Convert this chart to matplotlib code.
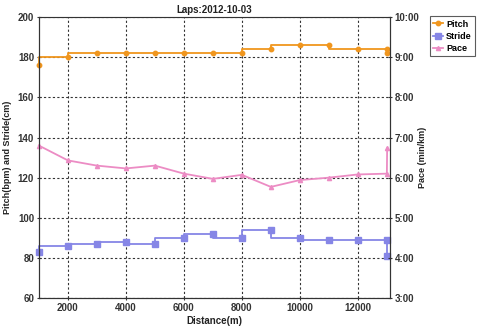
import matplotlib
matplotlib.use('Agg')
import matplotlib.pyplot as plt
from matplotlib.ticker import FuncFormatter

plt.rcParams['font.family'] = ['Liberation Sans', 'DejaVu Sans']

# lap data
distance = [1000, 2000, 3000, 4000, 5000, 6000, 7000, 8000, 9000, 10000, 11000, 12000, 13000, 13010]
pitch = [176, 180, 182, 182, 182, 182, 182, 182, 184, 186, 186, 184, 184, 182]
stride = [83, 86, 87, 88, 87, 90, 92, 90, 94, 90, 89, 89, 89, 81]
pace = [6.80, 6.43, 6.30, 6.23, 6.30, 6.10, 5.97, 6.07, 5.77, 5.94, 6.00, 6.08, 6.10, 6.73]  # min/km

c_pitch = '#F0961E'
c_stride = '#8686E6'
c_pace = '#EC8CC4'

fig = plt.figure(figsize=(4.8, 3.29), dpi=100)
ax1 = fig.add_axes([0.081, 0.094, 0.731, 0.854])
ax2 = ax1.twinx()

l1, = ax1.plot(distance, pitch, drawstyle='steps-pre', color=c_pitch, lw=1.3,
               marker='o', ms=3.2, label='Pitch', clip_on=False)
l2, = ax1.plot(distance, stride, drawstyle='steps-pre', color=c_stride, lw=1.3,
               marker='s', ms=4, label='Stride', clip_on=False)
l3, = ax2.plot(distance, pace, color=c_pace, lw=1.3, marker='^', ms=3, label='Pace', clip_on=False)

ax1.set_xlim(1000, 13100)
ax1.set_ylim(60, 200)
ax2.set_ylim(3, 10)
ax1.set_xticks([2000, 4000, 6000, 8000, 10000, 12000])
ax1.set_yticks(range(60, 201, 20))
ax2.set_yticks(range(3, 11))
ax2.yaxis.set_major_formatter(FuncFormatter(lambda v, p: '%d:00' % v))

ax1.grid(True, color='#333333', linestyle=(0, (2, 2)), lw=0.8)
for ax in (ax1, ax2):
    ax.tick_params(labelsize=7, length=3, direction='inout', colors='#333333', width=0.8, pad=2)
    for lab in ax.get_xticklabels() + ax.get_yticklabels():
        lab.set_fontweight('bold')
    for s in ax.spines.values():
        s.set_color('#333333')
ax1.spines['top'].set_color('#bbbbbb')

ax1.set_title('Laps:2012-10-03', fontsize=7, fontweight='bold', color='#222222', pad=3)
ax1.set_xlabel('Distance(m)', fontsize=7, fontweight='bold', color='#222222', labelpad=2)
ax1.set_ylabel('Pitch(bpm) and Stride(cm)', fontsize=6.5, fontweight='bold', color='#222222')
ax2.set_ylabel('Pace (min/km)', fontsize=6.5, fontweight='bold', color='#222222')
ax1.yaxis.set_label_coords(-0.077, 0.5)
ax2.yaxis.set_label_coords(1.08, 0.5)

leg = fig.legend(handles=[l1, l2, l3], loc='upper left', bbox_to_anchor=(0.896, 0.95),
                 prop={'weight': 'bold', 'size': 6.5}, frameon=True, fancybox=False,
                 handlelength=1.1, handletextpad=0.3, borderpad=0.35, labelspacing=0.35,
                 borderaxespad=0)
leg.get_frame().set_edgecolor('#333333')
leg.get_frame().set_linewidth(0.8)

fig.savefig('out.png', dpi=100)
